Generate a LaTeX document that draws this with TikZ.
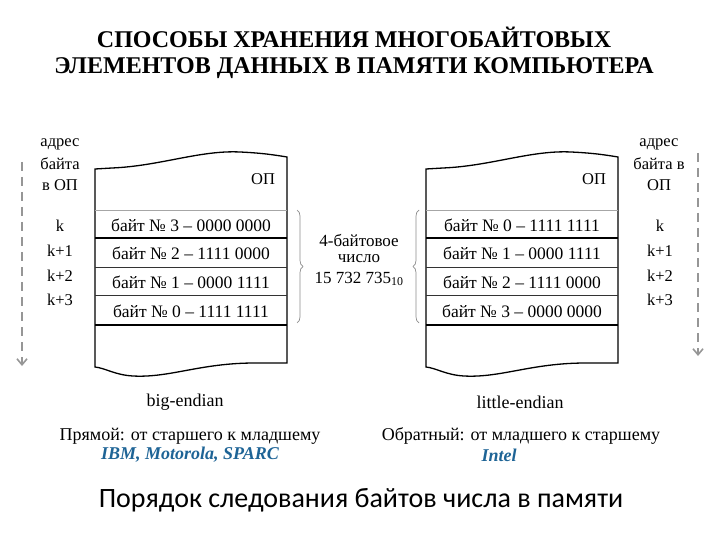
\documentclass[tikz,border=0pt]{standalone}
\usepackage{fontspec}
\setmainfont{Liberation Serif}
\newfontfamily\carl{Carlito}
\usetikzlibrary{arrows.meta,decorations.pathreplacing}
\definecolor{firmblue}{RGB}{30,100,150}
\definecolor{addrgray}{RGB}{150,150,150}
\begin{document}
\begin{tikzpicture}[x=1pt,y=-1pt,
  memline/.style={line width=1.3pt,black},
  thinrow/.style={line width=0.6pt,black!35},
  midrow/.style={line width=0.9pt,black!80},
  thickrow/.style={line width=1.6pt,black},
  bytetxt/.style={font=\fontsize{17.5}{19}\selectfont,inner sep=0pt},
  addrtxt/.style={font=\fontsize{16.5}{18}\selectfont,inner sep=0pt},
  addrarrow/.style={addrgray,line width=2pt,dash pattern=on 9pt off 6pt,-{Straight Barb[length=6pt,width=10pt,line width=1.6pt]}},
  bracestyle/.style={black!45,line width=0.7pt,decorate,decoration={brace,amplitude=6pt}},
  plain/.style={font=\fontsize{17}{19}\selectfont,inner sep=0pt,align=center},
  caption/.style={font=\fontsize{18}{20}\selectfont,inner sep=0pt},
  firm/.style={font=\fontsize{18}{20}\selectfont\bfseries\itshape,text=firmblue,inner sep=0pt}
]
\useasboundingbox (0,0) rectangle (720,540);

% title
\node[font=\fontsize{24}{26}\selectfont\bfseries,align=center,inner sep=0pt] (title) at (354,53)
  {СПОСОБЫ ХРАНЕНИЯ МНОГОБАЙТОВЫХ\\ЭЛЕМЕНТОВ ДАННЫХ В ПАМЯТИ КОМПЬЮТЕРА};

% memory boxes
\foreach \sx in {0,331}{
\begin{scope}[xshift=\sx pt]
  \draw[memline] (95,169) -- (112,168) .. controls (160,166) and (200,150) .. (240,152)
     .. controls (262,153) and (275,155) .. (287,157) -- (287,363) -- (255,363)
     .. controls (200,363) and (170,378) .. (133,376) .. controls (115,375) and (105,368) .. (95,367) -- cycle;
  \draw[thinrow] (95,210) -- (287,210);
  \draw[thickrow] (95,238) -- (287,238);
  \draw[midrow] (95,267) -- (287,267);
  \draw[midrow] (95,295) -- (287,295);
  \draw[thickrow,line width=1.3pt] (95,325) -- (287,325);
\end{scope}}

% left box texts
\node[addrtxt] (opL) at (263,179) {ОП};
\node[bytetxt] (bL3) at (191,225) {байт № 3 – 0000 0000};
\node[bytetxt] (bL2) at (191,253) {байт № 2 – 1111 0000};
\node[bytetxt] (bL1) at (191,282) {байт № 1 – 0000 1111};
\node[bytetxt] (bL0) at (191,311) {байт № 0 – 1111 1111};

% right box texts
\node[addrtxt] (opR) at (594,179) {ОП};
\node[bytetxt] (bR0) at (522,225) {байт № 0 – 1111 1111};
\node[bytetxt] (bR1) at (522,253) {байт № 1 – 0000 1111};
\node[bytetxt] (bR2) at (522,282) {байт № 2 – 1111 0000};
\node[bytetxt] (bR3) at (522,311) {байт № 3 – 0000 0000};

% left addresses
\node[addrtxt] (adL1) at (60,144) {адрес};
\node[addrtxt] (adL2) at (60,164) {байта};
\node[addrtxt] (adL3) at (60,185) {в ОП};
\node[addrtxt] (kL0) at (60,226) {k};
\node[addrtxt] (kL1) at (60,251) {k+1};
\node[addrtxt] (kL2) at (60,276) {k+2};
\node[addrtxt] (kL3) at (60,300) {k+3};

% right addresses
\node[addrtxt] (adR1) at (659,144) {адрес};
\node[addrtxt] (adR2) at (659,164) {байта в};
\node[addrtxt] (adR3) at (659,185) {ОП};
\node[addrtxt] (kR0) at (660,226) {k};
\node[addrtxt] (kR1) at (660,251) {k+1};
\node[addrtxt] (kR2) at (660,276) {k+2};
\node[addrtxt] (kR3) at (660,300) {k+3};

% address arrows
\coordinate (aLs) at (22,162);
\coordinate (aLe) at (22,366);
\coordinate (aRs) at (698,153);
\coordinate (aRe) at (698,356);
\draw[addrarrow] (aLs) -- (aLe);
\draw[addrarrow] (aRs) -- (aRe);

% braces
\coordinate (brLs) at (297,210);
\coordinate (brLe) at (297,323);
\coordinate (brRs) at (419,323);
\coordinate (brRe) at (419,210);
\draw[bracestyle] (brLs) -- (brLe);
\draw[bracestyle] (brRs) -- (brRe);

% middle text
\node[plain] (num1) at (359,240) {4-байтовое};
\node[plain] (num2) at (359,259) {число};
\node[plain] (num3) at (359,279) {15 732 735\textsubscript{10}};

% captions
\node[caption] (bigE) at (185,402) {big-endian};
\node[caption] (litE) at (520,402) {little-endian};

\node[caption] (dirL) at (190,436) {Прямой: от старшего к младшему};
\node[firm] (ibm) at (190,455) {IBM, Motorola, SPARC};
\node[caption] (dirR) at (521,436) {Обратный: от младшего к старшему};
\node[firm] (intel) at (499,455) {Intel};

\node[font=\carl\fontsize{28}{32}\selectfont,inner sep=0pt] (order) at (361,500) {Порядок следования байтов числа в памяти};
\end{tikzpicture}
\end{document}
